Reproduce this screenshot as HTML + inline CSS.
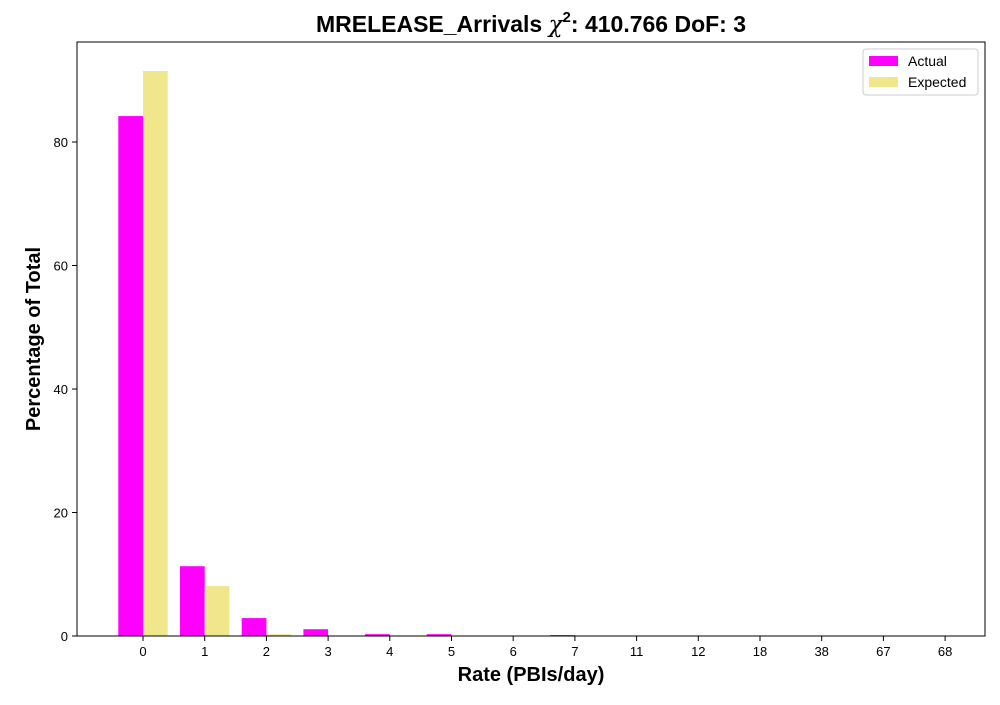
<!DOCTYPE html>
<html><head><meta charset="utf-8"><style>
body{margin:0;background:#fff;font-family:"Liberation Sans","DejaVu Sans",sans-serif}
</style></head><body>
<svg id="c" width="1000" height="700" xmlns="http://www.w3.org/2000/svg">
<text x="531" y="32" font-size="23" font-weight="bold" text-anchor="middle">MRELEASE_Arrivals <tspan font-style="italic" font-weight="normal" font-family="DejaVu Serif, serif">χ</tspan><tspan font-size="15" dy="-10">2</tspan><tspan dy="10">: 410.766 DoF: 3</tspan></text>
<g id="bars"></g>
<rect x="77" y="42" width="908" height="594" fill="none" stroke="#000" stroke-width="1"/>
<g id="axes"></g>
<text x="531" y="681" font-size="20" font-weight="bold" text-anchor="middle">Rate (PBIs/day)</text>
<text transform="translate(40,339) rotate(-90)" font-size="20" font-weight="bold" text-anchor="middle">Percentage of Total</text>
<g>
<rect x="863" y="49" width="115" height="46" fill="#fff" stroke="#ccc" rx="3"/>
<rect x="869" y="56" width="29" height="10" fill="#ff00ff"/>
<text x="908" y="66" font-size="14">Actual</text>
<rect x="869" y="77" width="29" height="10" fill="#f0e68c"/>
<text x="908" y="87" font-size="14">Expected</text>
</g>
</svg>
<script>
const categories=["0","1","2","3","4","5","6","7","11","12","18","38","67","68"];
const actual=[84.2,11.3,2.9,1.1,0.3,0.3,0,0.15,0,0,0,0,0,0];
const expected=[91.5,8.1,0.3,0.02,0,0,0,0,0,0,0,0,0,0];
const yTicks=[0,20,40,60,80];
const NS="http://www.w3.org/2000/svg";
const x0=143,step=61.7,bw=24.7;
function xs(i){return x0+i*step;}
function ys(v){return 636-v*6.175;}
const bars=document.getElementById('bars'),axes=document.getElementById('axes');
function mk(t,a,p){const e=document.createElementNS(NS,t);for(const k in a)e.setAttribute(k,a[k]);p.appendChild(e);return e;}
categories.forEach((c,i)=>{
  const r1=mk('rect',{x:xs(i)-bw,y:ys(actual[i]),width:bw,height:636-ys(actual[i]),fill:'#ff00ff'},bars);
  
  
  const r2=mk('rect',{x:xs(i),y:ys(expected[i]),width:bw,height:636-ys(expected[i]),fill:'#f0e68c'},bars);
  
  
  const tk=mk('line',{x1:xs(i),x2:xs(i),y1:636,y2:641,stroke:'#000'},axes);
  
  
  const t=mk('text',{x:xs(i),y:656,'font-size':13,'text-anchor':'middle'},axes);t.textContent=c;
  
  
});
yTicks.forEach(v=>{
  const tk=mk('line',{x1:72,x2:77,y1:ys(v),y2:ys(v),stroke:'#000'},axes);
  
  
  const t=mk('text',{x:68,y:ys(v)+5,'font-size':13,'text-anchor':'end'},axes);t.textContent=v;
  
  
});
</script>
</body></html>
